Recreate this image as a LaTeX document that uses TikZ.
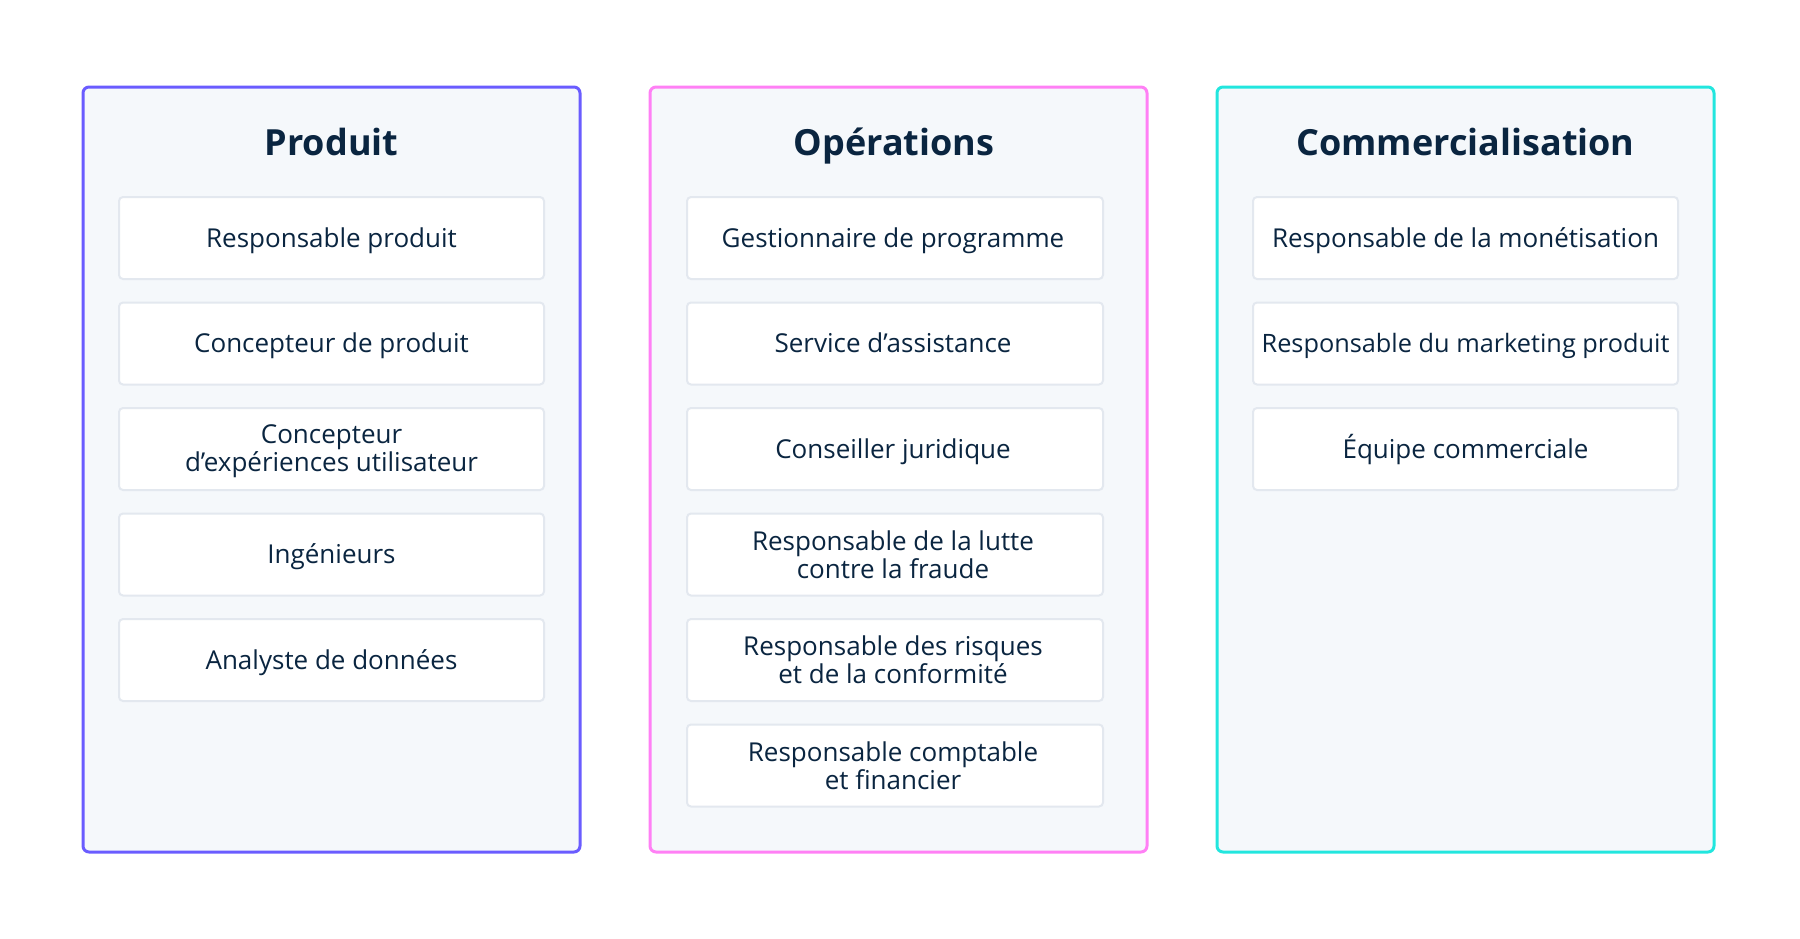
\documentclass[tikz,border=0pt]{standalone}
\usepackage{fontspec}
\setmainfont{Open Sans}
\definecolor{ink}{HTML}{0A2540}
\definecolor{panelbg}{HTML}{F5F8FB}
\definecolor{cardline}{HTML}{E3E8EF}
\definecolor{cpurple}{HTML}{6A5CFF}
\definecolor{cpink}{HTML}{FF80F5}
\definecolor{ccyan}{HTML}{22E6DE}
\tikzset{
  panel/.style={draw=#1, line width=3pt, fill=panelbg, rounded corners=6pt,
    minimum width=497pt, minimum height=765pt, inner sep=0pt},
  card/.style={draw=cardline, line width=2pt, fill=white, rounded corners=4pt,
    minimum width=425pt, minimum height=82pt, inner sep=0pt},
  narrowcard/.style={card, minimum width=416pt},
  onetext/.style={anchor=base, inner sep=0pt, text=ink,
    font=\fontsize{26}{28}\selectfont},
  twotext/.style={anchor=center, inner sep=0pt, align=center, text=ink, yshift=-2pt,
    font=\fontsize{26}{28}\selectfont},
  paneltitle/.style={anchor=base, text=ink, inner sep=0pt,
    font=\fontsize{36}{40}\selectfont\bfseries},
}
\begin{document}
\begin{tikzpicture}[x=1pt,y=-1pt]
\useasboundingbox (0,0) rectangle (1800,938);
% panels
\node[panel=cpurple] (p1) at (331.5,469.5) {};
\node[panel=cpink]   (p2) at (898.5,469.5) {};
\node[panel=ccyan]   (p3) at (1465.5,469.5) {};
% titles
\node[paneltitle] (t1) at (331.5,155) {Produit};
\node[paneltitle] (t2) at (894,155) {Opérations};
\node[paneltitle] (t3) at (1465.5,155) {Commercialisation};
% column 1
\node[card] (a1) at (331.5,238)   {};
\node[card] (a2) at (331.5,343.5) {};
\node[card] (a3) at (331.5,449)   {};
\node[card] (a4) at (331.5,554.5) {};
\node[card] (a5) at (331.5,660)   {};
\node[onetext] (a1t) at ([yshift=-9pt]a1.center) {Responsable produit};
\node[onetext] (a2t) at ([yshift=-9pt]a2.center) {Concepteur de produit};
\node[twotext] (a3t) at (a3.center) {Concepteur\\d’expériences utilisateur};
\node[onetext] (a4t) at ([yshift=-9pt]a4.center) {Ingénieurs};
\node[onetext] (a5t) at ([yshift=-9pt]a5.center) {Analyste de données};
% column 2
\node[narrowcard] (b1) at (895,238)   {};
\node[narrowcard] (b2) at (895,343.5) {};
\node[narrowcard] (b3) at (895,449)   {};
\node[narrowcard] (b4) at (895,554.5) {};
\node[narrowcard] (b5) at (895,660)   {};
\node[narrowcard] (b6) at (895,765.5) {};
\node[onetext] (b1t) at ([xshift=-2pt,yshift=-9pt]b1.center) {Gestionnaire de programme};
\node[onetext] (b2t) at ([xshift=-2pt,yshift=-9pt]b2.center) {Service d’assistance};
\node[onetext] (b3t) at ([xshift=-2pt,yshift=-9pt]b3.center) {Conseiller juridique};
\node[twotext] (b4t) at ([xshift=-2pt,yshift=2pt]b4.center) {Responsable de la lutte\\contre la fraude};
\node[twotext] (b5t) at ([xshift=-2pt,yshift=2pt]b5.center) {Responsable des risques\\et de la conformité};
\node[twotext] (b6t) at ([xshift=-2pt,yshift=2pt]b6.center) {Responsable comptable\\et financier};
% column 3
\node[card] (c1) at (1465.5,238)   {};
\node[card] (c2) at (1465.5,343.5) {};
\node[card] (c3) at (1465.5,449)   {};
\node[onetext] (c1t) at ([yshift=-9pt]c1.center) {Responsable de la monétisation};
\node[onetext] (c2t) at ([yshift=-9pt]c2.center) {\fontsize{25.3}{28}\selectfont Responsable du marketing produit};
\node[onetext] (c3t) at ([yshift=-9pt]c3.center) {Équipe commerciale};
\end{tikzpicture}
\end{document}
